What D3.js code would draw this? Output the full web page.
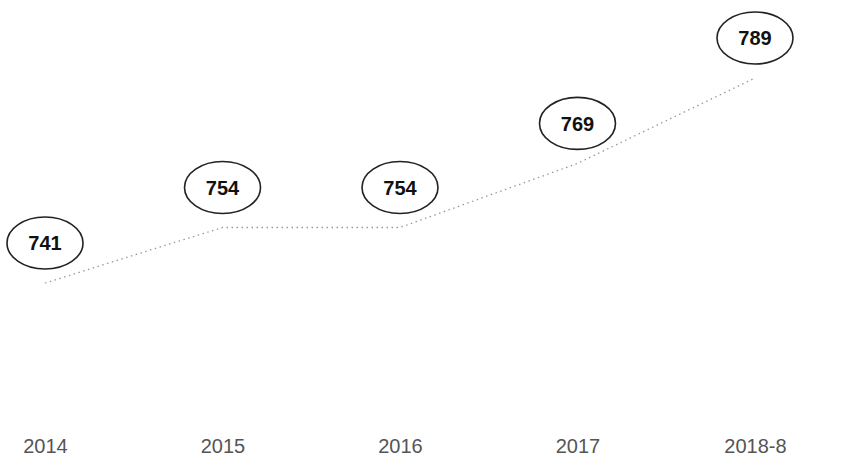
<!DOCTYPE html>
<html>
<head>
<meta charset="utf-8">
<script src="https://cdn.jsdelivr.net/npm/d3@7"></script>
<style>
  body { margin: 0; background: #fff; }
  svg { display: block; }
</style>
</head>
<body>
<div id="chart"></div>
<script>
const years = ['2014', '2015', '2016', '2017', '2018-8'];
const values = [741, 754, 754, 769, 789];

const width = 867;
const height = 459;

const x = d3.scalePoint()
  .domain(years)
  .range([45, 755]);

// one unit ~ 4.28px
const y = d3.scaleLinear()
  .domain([741, 789])
  .range([243, 38]);

const lineOffset = 40;
const rx = 38;
const ry = 26;

const svg = d3.select('#chart')
  .append('svg')
  .attr('width', width)
  .attr('height', height);

const data = years.map((d, i) => ({ year: d, value: values[i] }));

const line = d3.line()
  .x((d) => x(d.year))
  .y((d) => y(d.value) + lineOffset);

svg.append('path')
  .datum(data)
  .attr('fill', 'none')
  .attr('stroke', '#999')
  .attr('stroke-width', 1.3)
  .attr('stroke-dasharray', '1.5,3.5')
  .attr('d', line);

const bubble = svg.append('g')
  .selectAll('g')
  .data(data)
  .join('g')
  .attr('transform', (d) => `translate(${x(d.year)},${y(d.value)})`);

bubble.append('ellipse')
  .attr('rx', rx)
  .attr('ry', ry)
  .attr('fill', '#fff')
  .attr('stroke', '#222')
  .attr('stroke-width', 1.6);

bubble.append('text')
  .attr('text-anchor', 'middle')
  .attr('dy', '0.36em')
  .attr('font-family', 'Liberation Sans, Arial, sans-serif')
  .attr('font-size', 20)
  .attr('font-weight', 'bold')
  .attr('fill', '#111')
  .text((d) => d.value);

const xAxis = d3.axisBottom(x).tickSize(0).tickPadding(0);

svg.append('g')
  .attr('transform', 'translate(0,439)')
  .call(xAxis)
  .call((g) => g.select('.domain').remove())
  .call((g) => g.selectAll('text')
    .attr('font-family', 'Liberation Sans, Arial, sans-serif')
    .attr('font-size', 20)
    .attr('fill', '#555'));
</script>
</body>
</html>
